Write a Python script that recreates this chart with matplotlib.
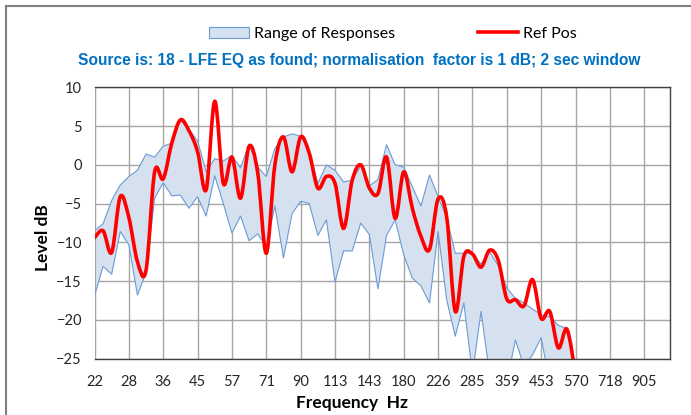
import numpy as np
import matplotlib
matplotlib.use("Agg")
import matplotlib.pyplot as plt
from matplotlib.path import Path
from matplotlib.patches import PathPatch, Patch
from matplotlib.lines import Line2D

# frequency tick labels (every 4th 1/12-octave step)
freq_labels = ["22", "28", "36", "45", "57", "71", "90", "113", "143", "180",
               "226", "285", "359", "453", "570", "718", "905"]
n_steps = 68  # 1/12 octave steps shown on the axis

# Ref Pos level, dB
ref_pos = [-9.4, -8.5, -11.3, -4.1, -6.8, -12.5, -13.6, -0.9, -1.8, 2.8,
           5.8, 4.4, 1.7, -3.2, 8.2, -2.4, 1.0, -4.3, 2.4, -1.0,
           -11.4, 0.0, 3.6, -0.9, 3.6, 1.5, -3.0, -1.5, -2.4, -8.2,
           -2.0, 0.0, -3.0, -3.7, 1.0, -6.9, -0.9, -5.6, -9.2, -10.9,
           -4.4, -6.7, -18.9, -11.8, -11.5, -13.2, -11.0, -12.3, -17.3, -17.4,
           -18.2, -14.8, -19.8, -18.9, -23.6, -21.2, -27.0]

# range of responses, dB
range_hi = [-8.5, -7.6, -4.6, -2.6, -1.5, -0.7, 1.4, 1.0, 2.4, 2.8,
            5.8, 4.5, 3.1, -0.9, 0.8, 0.5, 1.2, -0.4, 2.7, -0.3,
            -1.5, 2.1, 3.6, 4.0, 3.7, 1.9, -2.4, 0.0, -0.7, -2.2,
            -2.0, -0.1, -2.7, -1.9, 2.6, 0.0, -0.3, -2.8, -5.3, -1.3,
            -4.1, -6.8, -11.4, -11.4, -11.4, -12.8, -11.2, -13.0, -15.9, -17.2,
            -17.8, -18.6, -19.3, -19.6, -20.7, -21.1, -27.0]
range_lo = [-16.9, -13.1, -14.1, -8.6, -10.3, -16.8, -13.9, -4.3, -2.3, -4.0,
            -3.9, -5.6, -4.1, -6.6, -1.4, -5.0, -8.8, -6.6, -9.8, -8.9,
            -10.5, -5.3, -12.0, -6.3, -4.7, -5.0, -9.1, -7.1, -15.1, -11.1,
            -11.1, -7.5, -9.0, -16.0, -9.1, -7.1, -11.6, -14.6, -15.6, -17.8,
            -8.6, -17.4, -22.1, -17.8, -27.0, -18.9, -27.0, -28.0, -28.0, -22.6,
            -26.0, -24.5, -22.3, -28.0, -28.0, -28.0, -30.0]

W, H = 691, 415
fig = plt.figure(figsize=(W / 100, H / 100), dpi=100)
ax = fig.add_axes([94.5 / W, 1 - 358.7 / H, (670 - 94.5) / W, (358.7 - 87.3) / H])

x = np.arange(len(ref_pos))
hi = np.array(range_hi)
lo = np.array(range_lo)

band_face = "#D6E1EF"
band_edge = "#6A9BD8"
ax.fill_between(x, lo, hi, facecolor=band_face, edgecolor="none", zorder=2)
ax.plot(x, hi, color=band_edge, lw=0.8, zorder=3)
ax.plot(x, lo, color=band_edge, lw=0.8, zorder=3)

# smoothed line through the ref points (bezier segments)
pts = np.column_stack([x, ref_pos]).astype(float)
verts = [pts[0]]
codes = [Path.MOVETO]
for i in range(len(pts) - 1):
    p0 = pts[max(i - 1, 0)]
    p1 = pts[i]
    p2 = pts[i + 1]
    p3 = pts[min(i + 2, len(pts) - 1)]
    verts += [p1 + (p2 - p0) / 6, p2 - (p3 - p1) / 6, p2]
    codes += [Path.CURVE4] * 3
ax.add_patch(PathPatch(Path(verts, codes), facecolor="none", edgecolor="#FF0000",
                       lw=2.6, zorder=4, capstyle="round", joinstyle="round"))

ax.set_xlim(0, n_steps - 1)
ax.set_ylim(-25, 10)
ax.set_yticks(np.arange(-25, 11, 5))
ax.set_xticks(np.arange(len(freq_labels)) * 4)
ax.set_xticklabels(freq_labels)
ax.grid(True, color="#A6A6A6", lw=1.0, zorder=1)
ax.set_axisbelow(True)
ax.tick_params(length=0, labelsize=10.5, colors="#262626")
for lab in ax.get_xticklabels() + ax.get_yticklabels():
    lab.set_family("Lato")
ax.tick_params(axis="y", pad=9)
ax.tick_params(axis="x", pad=12)
for side in ["top", "right", "bottom"]:
    ax.spines[side].set_color("#404040")
    ax.spines[side].set_linewidth(1.0)
ax.spines["left"].set_color("#A6A6A6")

fig.text(43 / W, 1 - 238 / H, "Level dB", rotation=90, ha="center", va="center",
         fontsize=12.5, fontweight="bold", family="Lato")
fig.text(352 / W, 1 - 403 / H, "Frequency  Hz", ha="center", va="center",
         fontsize=12.5, fontweight="bold", family="Lato")
fig.text(359 / W, 1 - 61 / H,
         "Source is: 18 - LFE EQ as found; normalisation  factor is 1 dB; 2 sec window",
         ha="center", va="center", fontsize=11.2, fontweight="bold",
         color="#0070C0", family="Liberation Sans")

handles = [Patch(facecolor=band_face, edgecolor=band_edge, lw=0.8),
           Line2D([], [], color="#FF0000", lw=2.6)]
fig.legend(handles, ["Range of Responses", "Ref Pos"], loc="center",
           bbox_to_anchor=(393 / W, 1 - 34 / H), ncol=2, frameon=False,
           prop={"family": "Lato", "size": 11.5}, columnspacing=5.2,
           handlelength=2.5, handletextpad=0.3)

# chart frame (only left and top visible)
fig.add_artist(Line2D([6 / W, 6 / W], [0, 1 - 6 / H], color="#808080", lw=1.5))
fig.add_artist(Line2D([6 / W, 1], [1 - 6 / H, 1 - 6 / H], color="#808080", lw=1.5))

fig.savefig("out.png", dpi=100)
